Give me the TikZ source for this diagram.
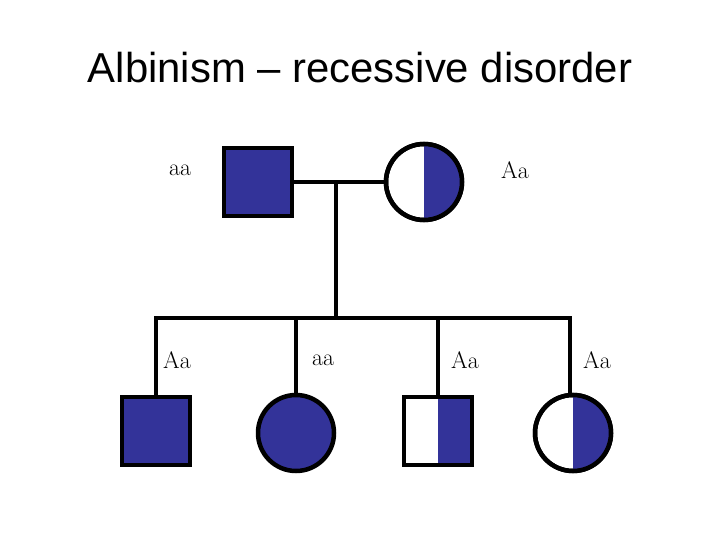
\documentclass[tikz,border=0pt]{standalone}
\usepackage{fontspec}
\newfontfamily\titlefont{Liberation Sans}
\usetikzlibrary{positioning}
\definecolor{albino}{RGB}{51,51,153}
\tikzset{
  line/.style={line width=4.5bp, black},
  male/.style={draw=black, line width=4.5bp, minimum size=68bp, inner sep=0pt, rectangle},
  female/.style={draw=black, line width=4.5bp, minimum size=76bp, inner sep=0pt, circle},
  geno/.style={font=\fontsize{24}{26}\selectfont\rmfamily}
}
\begin{document}
\begin{tikzpicture}[x=1bp,y=-1bp]
  \useasboundingbox (0,0) rectangle (720,540);
  \node[font=\titlefont\fontsize{42}{45}\selectfont] (title) at (360,68) {Albinism \textendash{} recessive disorder};
  % parents
  \node[male, fill=albino] (dad) at (258,182) {};
  \node[female] (mom) at (424,182) {};
  \fill[albino] (mom.center) ++(0,-36) arc (-90:90:36) -- cycle;
  \node[female] at (424,182) {};
  \coordinate (mid) at (336,182);
  \coordinate (sib) at (336,318);
  \draw[line] (dad.east) -- (mom.west);
  \draw[line] (mid) -- (sib);
  % children
  \node[male, fill=albino] (c1) at (156,431) {};
  \node[female, fill=albino] (c2) at (296,433) {};
  \node[male] (c3) at (438,431) {};
  \fill[albino] (c3.north) rectangle (c3.south east);
  \node[male] at (438,431) {};
  \node[female] (c4) at (573,433) {};
  \fill[albino] (c4.center) ++(0,-36) arc (-90:90:36) -- cycle;
  \node[female] at (573,433) {};
  \coordinate (h1) at (156,318);
  \coordinate (h2) at (296,318);
  \coordinate (h3) at (438,318);
  \coordinate (h4) at (570,318);
  \draw[line] ([xshift=-2bp]h1) -- ([xshift=2bp]h4);
  \draw[line] (h1) -- (c1.north);
  \draw[line] (h2) -- (c2.north);
  \draw[line] (h3) -- (c3.north);
  \draw[line] (h4) -- (c4.north -| h4);
  % genotypes
  \node[geno] (gdad) at (180,170) {aa};
  \node[geno] (gmom) at (515,170) {Aa};
  \node[geno] (g1) at (177,360) {Aa};
  \node[geno] (g2) at (323,360) {aa};
  \node[geno] (g3) at (465,360) {Aa};
  \node[geno] (g4) at (597,360) {Aa};
\end{tikzpicture}
\end{document}
